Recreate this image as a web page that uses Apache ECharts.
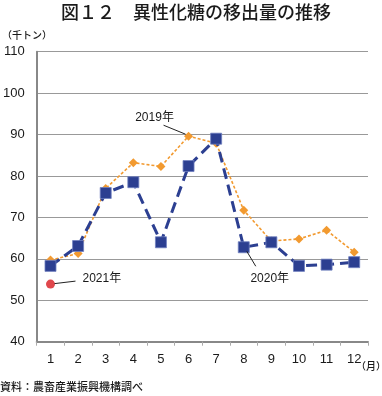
<!DOCTYPE html>
<html><head><meta charset="utf-8">
<script src="https://cdn.jsdelivr.net/npm/echarts@6/dist/echarts.min.js"></script>
<style>html,body{margin:0;padding:0;background:#fff}#c{width:382px;height:396px}</style>
</head><body><div id="c"></div>
<script>
const months = ['1','2','3','4','5','6','7','8','9','10','11','12'];
const yTicks = [40, 50, 60, 70, 80, 90, 100, 110];
const v2019 = [59.7, 61.3, 77.0, 83.2, 82.3, 89.6, 87.9, 71.7, 64.3, 64.8, 66.9, 61.6];
const v2020 = [58.3, 63.1, 75.9, 78.5, 64.0, 82.4, 89.0, 62.8, 64.0, 58.3, 58.6, 59.2];
const v2021 = [53.9];
const seriesNames = ['2019年', '2020年', '2021年'];

const FONT = '"Liberation Sans", Arial, "Noto Sans CJK JP", sans-serif';
const CJK = '"Noto Sans CJK JP", sans-serif';
const chart = echarts.init(document.getElementById('c'), null, {renderer: 'canvas'});
const option = {
  animation: false,
  backgroundColor: '#fff',
  grid: {left: 36, right: 14, top: 51.7, bottom: 54.3},
  xAxis: {
    type: 'category', data: months, boundaryGap: true,
    axisLine: {lineStyle: {color: '#888', width: 2}},
    axisTick: {show: true, length: 4, lineStyle: {color: '#aaa'}},
    axisLabel: {margin: 11, fontSize: 13, color: '#1a1a1a', fontFamily: FONT}
  },
  yAxis: {
    type: 'value', min: yTicks[0], max: yTicks[yTicks.length - 1], interval: 10,
    axisLine: {show: true, lineStyle: {color: '#888', width: 2}},
    axisTick: {show: false},
    splitLine: {lineStyle: {color: '#999', width: 1}},
    axisLabel: {margin: 12, fontSize: 13, color: '#1a1a1a', fontFamily: FONT}
  },
  series: [
    {name: seriesNames[0], type: 'line', data: v2019, z: 2,
     symbol: 'diamond', symbolSize: 9,
     itemStyle: {color: '#F29A30'},
     lineStyle: {color: '#F29A30', width: 1.6, type: [3, 2]}},
    {name: seriesNames[1], type: 'line', data: v2020, z: 3,
     symbol: 'rect', symbolSize: 11,
     itemStyle: {color: '#2C3F91', borderColor: '#6F7FBF', borderWidth: 0.8},
     lineStyle: {color: '#2C3F91', width: 3, type: [11, 6]}},
    {name: seriesNames[2], type: 'line', data: v2021, z: 4,
     symbol: 'circle', symbolSize: 9,
     itemStyle: {color: '#E0474C'}}
  ],
  graphic: [
    {type: 'text', x: 196, y: 12, style: {text: '図１２　異性化糖の移出量の推移', font: '500 18px ' + CJK, fill: '#1a1a1a', textAlign: 'center', textVerticalAlign: 'middle'}},
    {type: 'text', left: 2, top: 30, style: {text: '（千トン）', font: '500 10px ' + CJK, fill: '#1a1a1a'}},
    {type: 'text', right: -4, top: 361, style: {text: '（月）', font: '500 10px ' + CJK, fill: '#1a1a1a'}},
    {type: 'text', left: 0, top: 381, style: {text: '資料：農畜産業振興機構調べ', font: '500 11px ' + CJK, fill: '#1a1a1a'}}
  ]
};
chart.setOption(option);

function ann(seriesIdx, dataIdx, p1, p2, tx, ty, text, align) {
  const vals = [v2019, v2020, v2021][seriesIdx];
  const pt = chart.convertToPixel({seriesIndex: seriesIdx}, [dataIdx, vals[dataIdx]]);
  return [
    {type: 'line', shape: {x1: pt[0] + p1[0], y1: pt[1] + p1[1], x2: pt[0] + p2[0], y2: pt[1] + p2[1]},
     style: {stroke: '#222', lineWidth: 1}, z: 10},
    {type: 'text', x: pt[0] + tx, y: pt[1] + ty,
     style: {text: text, font: '12px ' + FONT, fill: '#1a1a1a', textAlign: align, textVerticalAlign: 'middle'}, z: 10}
  ];
}
const g = option.graphic.concat(
  ann(0, 5, [-3, -2], [-25, -11], -34, -19, seriesNames[0], 'center'),
  ann(1, 7, [3, 4], [12, 19], 26, 31, seriesNames[1], 'center'),
  ann(2, 0, [4, -0.5], [25, -3], 32, -5, seriesNames[2], 'left')
);
chart.setOption({graphic: g}, {replaceMerge: ['graphic']});
</script></body></html>
